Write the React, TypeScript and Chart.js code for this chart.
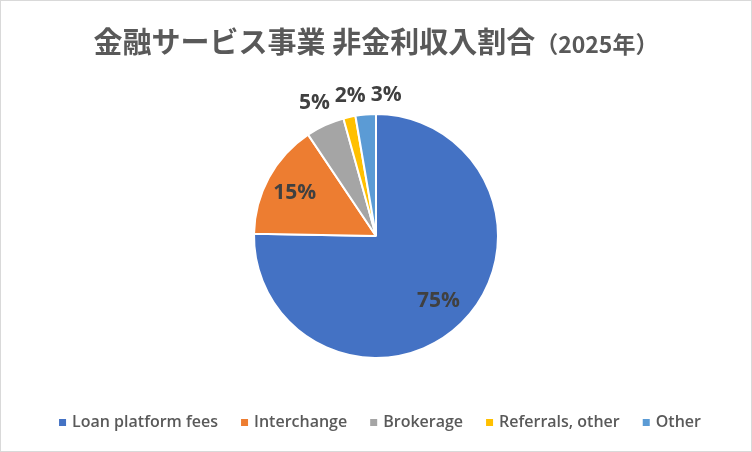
import React, { useEffect, useRef } from "react";
import { Chart, registerables } from "chart.js";

Chart.register(...registerables);

const categories = ["Loan platform fees", "Interchange", "Brokerage", "Referrals, other", "Other"];
const shares = [75.3, 15.3, 5.1, 1.6, 2.7];
const colors = ["#4472C4", "#ED7D31", "#A5A5A5", "#FFC000", "#5B9BD5"];
const titleMain = "金融サービス事業 非金利収入割合";
const titleSub = "（2025年）";

const CJK = '"Noto Sans CJK JP", "Noto Sans", sans-serif';
const LAT = '"Open Sans", "Noto Sans", sans-serif';
const TEXT_COLOR = "#595959";
const LABEL_COLOR = "#404040";

const titlePlugin = {
  id: "twoPartTitle",
  afterDraw(chart: any) {
    const ctx = chart.ctx;
    ctx.save();
    ctx.fillStyle = TEXT_COLOR;
    ctx.textBaseline = "alphabetic";
    ctx.textAlign = "left";
    const f1 = `700 29px ${CJK}`;
    const f2 = `700 23px ${CJK}`;
    ctx.font = f1;
    const w1 = ctx.measureText(titleMain).width;
    ctx.font = f2;
    const w2 = ctx.measureText(titleSub).width;
    const x0 = chart.width / 2 - (w1 + w2) / 2;
    const base = 52;
    ctx.font = f1;
    ctx.fillText(titleMain, x0, base);
    ctx.font = f2;
    ctx.fillText(titleSub, x0 + w1, base);
    ctx.restore();
  },
};

const legendPlugin = {
  id: "customLegend",
  afterDraw(chart: any) {
    const ctx = chart.ctx;
    const labels: string[] = chart.data.labels;
    const bg: string[] = chart.data.datasets[0].backgroundColor;
    ctx.save();
    ctx.font = `600 16px ${LAT}`;
    ctx.textBaseline = "alphabetic";
    ctx.textAlign = "left";
    const box = 7;
    const gapText = 6;
    const gapItem = 23;
    const widths = labels.map((l) => ctx.measureText(l).width);
    const total = widths.reduce((a, w) => a + box + gapText + w, 0) + gapItem * (labels.length - 1);
    let x = chart.width / 2 - total / 2 + 4;
    const base = 426;
    labels.forEach((l, i) => {
      ctx.fillStyle = bg[i];
      ctx.fillRect(x, base - 8, box, box);
      ctx.fillStyle = TEXT_COLOR;
      ctx.fillText(l, x + box + gapText, base);
      x += box + gapText + widths[i] + gapItem;
    });
    ctx.restore();
  },
};

const dataLabelPlugin = {
  id: "pctLabels",
  afterDatasetsDraw(chart: any) {
    const ctx = chart.ctx;
    const meta = chart.getDatasetMeta(0);
    const values: number[] = chart.data.datasets[0].data;
    const total = values.reduce((a, b) => a + b, 0);
    const size = 21;
    const h = 16;
    ctx.save();
    ctx.font = `700 ${size}px ${LAT}`;
    const placed: any[] = [];
    meta.data.forEach((arc: any, i: number) => {
      const p = arc.getProps(["x", "y", "startAngle", "endAngle", "outerRadius"], true);
      const mid = (p.startAngle + p.endAngle) / 2;
      const frac = values[i] / total;
      const text = Math.round(frac * 100) + "%";
      const w = ctx.measureText(text).width;
      const dx = Math.cos(mid);
      const dy = Math.sin(mid);
      let cx: number, cy: number;
      const outside = frac < 0.1;
      if (!outside) {
        const r = frac > 0.5 ? 0.73 : 0.76;
        cx = p.x + dx * p.outerRadius * r;
        cy = p.y + dy * p.outerRadius * r;
      } else {
        const d = p.outerRadius + 12 + Math.abs(dx) * (w / 2) + Math.abs(dy) * (h / 2);
        cx = p.x + dx * d;
        cy = p.y + dy * d;
      }
      placed.push({ text, cx, cy, w, outside });
    });
    const outs = placed.filter((q) => q.outside).sort((a, b) => a.cx - b.cx);
    for (let k = 1; k < outs.length; k++) {
      const prev = outs[k - 1];
      const cur = outs[k];
      if (Math.abs(prev.cy - cur.cy) < h + 2) {
        const minX = prev.cx + prev.w / 2 + 5 + cur.w / 2;
        if (cur.cx < minX) cur.cx = minX;
      }
    }
    ctx.fillStyle = LABEL_COLOR;
    ctx.textAlign = "center";
    ctx.textBaseline = "alphabetic";
    placed.forEach((q) => {
      ctx.fillText(q.text, q.cx, q.cy + size * 0.357);
    });
    ctx.restore();
  },
};

export default function App() {
  const ref = useRef<HTMLCanvasElement | null>(null);
  useEffect(() => {
    document.body.style.margin = "0";
    if (!ref.current) return;
    const chart = new Chart(ref.current, {
      type: "pie",
      data: {
        labels: categories,
        datasets: [
          {
            data: shares,
            backgroundColor: colors,
            borderColor: "#FFFFFF",
            borderWidth: 2,
          },
        ],
      },
      options: {
        responsive: false,
        animation: false,
        layout: { padding: { top: 112, bottom: 92, left: 0, right: 0 } },
        plugins: {
          legend: { display: false },
          title: { display: false },
          tooltip: { enabled: false },
        },
      },
      plugins: [titlePlugin, legendPlugin, dataLabelPlugin],
    } as any);
    return () => chart.destroy();
  }, []);
  return (
    <div
      style={{
        width: 752,
        height: 452,
        boxSizing: "border-box",
        border: "1px solid #D9D9D9",
        background: "#FFFFFF",
      }}
    >
      <canvas ref={ref} width={750} height={450} style={{ display: "block" }} />
    </div>
  );
}
